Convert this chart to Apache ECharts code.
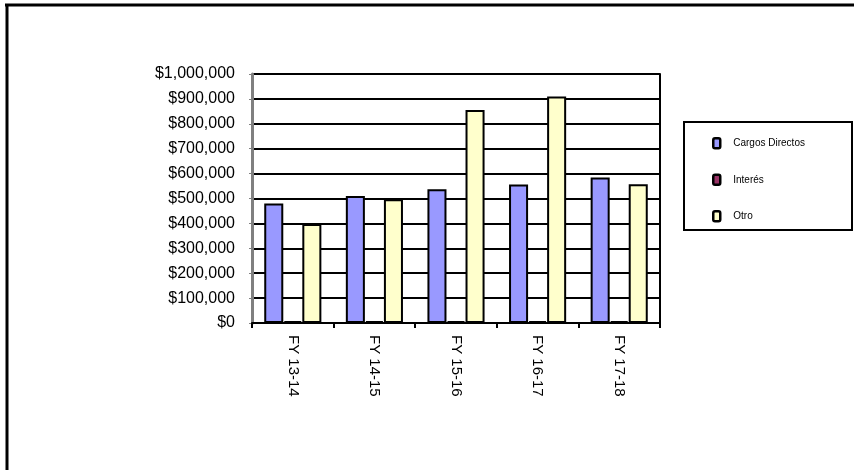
<!DOCTYPE html>
<html>
<head>
<meta charset="utf-8">
<script src="https://cdn.jsdelivr.net/npm/echarts@6/dist/echarts.min.js"></script>
<style>html,body{margin:0;padding:0;background:#fff;}#c{width:854px;height:470px;}</style>
</head>
<body>
<div id="c"></div>
<script>
const categories = ['FY 13-14', 'FY 14-15', 'FY 15-16', 'FY 16-17', 'FY 17-18'];
const cargosDirectos = [480000, 510000, 537000, 556000, 584000];
const interes = [8000, 8000, 8000, 8000, 8000];
const otro = [398000, 497000, 855000, 910000, 557000];
const seriesNames = ['Cargos Directos', 'Interés', 'Otro'];

const chart = echarts.init(document.getElementById('c'));
const font = 'Liberation Sans, Arial, sans-serif';
const barStyle = (color) => ({ color: color, borderColor: '#000', borderWidth: 2 });
chart.setOption({
  animation: false,
  backgroundColor: '#fff',
  textStyle: { fontFamily: font },
  graphic: [
    { type: 'line', shape: { x1: 5, y1: 5, x2: 854, y2: 5 }, style: { stroke: '#000', lineWidth: 3 } },
    { type: 'line', shape: { x1: 7, y1: 5, x2: 7, y2: 470 }, style: { stroke: '#000', lineWidth: 3 } },
    { type: 'rect', shape: { x: 684, y: 122, width: 168, height: 108 }, style: { fill: 'none', stroke: '#000', lineWidth: 2 }, z: 0 }
  ],
  legend: {
    orient: 'vertical',
    left: 707,
    top: 132,
    itemWidth: 7,
    itemHeight: 10,
    itemGap: 24,
    itemStyle: { borderColor: '#000', borderWidth: 2.5 },
    textStyle: { fontSize: 10, color: '#000', fontFamily: font, padding: [0, 0, 0, 8] },
    data: seriesNames
  },
  grid: { left: 252, top: 74, right: 194, bottom: 147, containLabel: false },
  xAxis: {
    type: 'category',
    data: categories,
    axisLine: { lineStyle: { color: '#000', width: 2 } },
    axisTick: { show: true, length: 5, lineStyle: { color: '#000', width: 2 } },
    axisLabel: { rotate: -90, margin: 12, fontSize: 15, color: '#000', fontFamily: font }
  },
  yAxis: [{
    type: 'value',
    min: 0,
    max: 1000000,
    interval: 100000,
    axisLine: { show: true, lineStyle: { color: '#808080', width: 3 } },
    axisTick: { show: true, length: 3, lineStyle: { color: '#808080' } },
    splitLine: { show: true, lineStyle: { color: '#000', width: 2 } },
    axisLabel: {
      fontSize: 16, color: '#000', margin: 17, fontFamily: font,
      formatter: v => '$' + v.toLocaleString('en-US')
    }
  }, {
    type: 'value',
    position: 'right',
    min: 0,
    max: 1000000,
    interval: 100000,
    axisLine: { show: true, lineStyle: { color: '#000', width: 2 } },
    axisTick: { show: false },
    axisLabel: { show: false },
    splitLine: { show: false }
  }],
  series: [
    { name: seriesNames[0], type: 'bar', data: cargosDirectos, barGap: '0%', barCategoryGap: '30%', itemStyle: barStyle('#9999FF') },
    { name: seriesNames[1], type: 'bar', data: interes, itemStyle: barStyle('#993366') },
    { name: seriesNames[2], type: 'bar', data: otro, itemStyle: barStyle('#FFFFCC') }
  ]
});
</script>
</body>
</html>
